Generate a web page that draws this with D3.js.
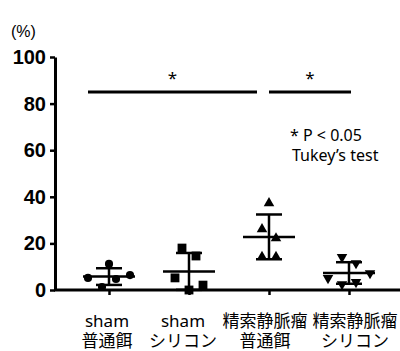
<!DOCTYPE html>
<html>
<head>
<meta charset="utf-8">
<script src="https://cdn.jsdelivr.net/npm/d3@7"></script>
<style>
  body { margin: 0; background: #fff; }
  svg { display: block; }
</style>
</head>
<body>
<script>
// chart data
var line1 = ["sham", "sham", "精索静脈瘤", "精索静脈瘤"];
var line2 = ["普通餌", "シリコン", "普通餌", "シリコン"];
var groups = ["g1", "g2", "g3", "g4"];
var shapes = ["circle", "square", "triangle", "triangleDown"];

var values = [
    [5.2, 11.2, 4.7, 6.4, 1.3],
    [18.0, 14.6, 5.2, 2.1, 0.0],
    [37.3, 26.1, 22.2, 14.2, 14.2],
    [14.1, 11.5, 7.2, 5.1, 2.5, 3.4]
];
// horizontal spread slot of each point (scatter column layout)
var slots = [
    [-3, 0, 1, 3, -1],
    [-1, 1, -2, 2, 0],
    [0, -1, 1, -1, 1],
    [-1, 1, 3, -3, -1, 1]
];
var yTicks = [0, 20, 40, 60, 80, 100];

var width = 400, height = 351;

var svg = d3.select("body").append("svg")
    .attr("width", width)
    .attr("height", height);

var x = d3.scalePoint().domain(groups).range([109, 349]);
var y = d3.scaleLinear().domain([0, 100]).range([290, 57]);

var latin = "'Noto Sans', 'Noto Sans CJK JP', sans-serif";

//y axis
var yAxis = svg.append("g")
    .attr("transform", "translate(55,0)")
    .call(d3.axisLeft(y).tickValues(yTicks).tickSize(5).tickSizeOuter(0).tickPadding(4));
yAxis.select(".domain").attr("stroke-width", 3);
yAxis.selectAll(".tick line").attr("stroke-width", 2.5);
yAxis.selectAll(".tick text")
    .attr("font-family", "'Liberation Sans', Arial, sans-serif")
    .attr("font-weight", "bold")
    .attr("font-size", 20)
    .attr("fill", "#000");

svg.append("text")
    .attr("x", 11).attr("y", 37)
    .attr("font-family", "'Liberation Sans', Arial, sans-serif")
    .attr("font-size", 16)
    .text("(%)");

//x axis: long baseline plus category ticks
svg.append("line")
    .attr("x1", 54).attr("x2", width)
    .attr("y1", y(0)).attr("y2", y(0))
    .attr("stroke", "#000").attr("stroke-width", 3);

var xAxis = svg.append("g")
    .attr("transform", "translate(0," + y(0) + ")")
    .call(d3.axisBottom(x).tickSize(5).tickFormat(""));
xAxis.select(".domain").remove();
xAxis.selectAll(".tick line").attr("stroke-width", 2.5);

//category labels (two lines)
var labelShift = [-2, -6, -4, 6];
[line1, line2].forEach(function(lines, li){
    svg.selectAll(".catLabel" + li)
        .data(groups)
        .enter()
        .append("text")
        .attr("class", "catLabel" + li)
        .attr("text-anchor", "middle")
        .attr("font-family", latin)
        .attr("font-size", 17)
        .attr("x", function(d, i){ return x(d) + labelShift[i]; })
        .attr("y", li === 0 ? 327 : 347)
        .text(function(d, i){ return lines[i]; });
});

//mean and SD bars
var stats = values.map(function(v){
    return { mean: d3.mean(v), sd: d3.deviation(v) };
});
var bars = svg.selectAll(".errBar")
    .data(groups)
    .enter()
    .append("g")
    .attr("class", "errBar")
    .attr("stroke", "#000")
    .attr("stroke-width", 2.5);
bars.append("line")
    .attr("x1", function(d){ return x(d) - 26; })
    .attr("x2", function(d){ return x(d) + 26; })
    .attr("y1", function(d, i){ return y(stats[i].mean); })
    .attr("y2", function(d, i){ return y(stats[i].mean); });
bars.append("line")
    .attr("x1", function(d){ return x(d); })
    .attr("x2", function(d){ return x(d); })
    .attr("y1", function(d, i){ return y(Math.max(0, stats[i].mean - stats[i].sd)); })
    .attr("y2", function(d, i){ return y(stats[i].mean + stats[i].sd); });
bars.append("line")
    .attr("x1", function(d){ return x(d) - 13; })
    .attr("x2", function(d){ return x(d) + 13; })
    .attr("y1", function(d, i){ return y(stats[i].mean + stats[i].sd); })
    .attr("y2", function(d, i){ return y(stats[i].mean + stats[i].sd); });
bars.append("line")
    .attr("x1", function(d){ return x(d) - 13; })
    .attr("x2", function(d){ return x(d) + 13; })
    .attr("y1", function(d, i){ return y(stats[i].mean - stats[i].sd); })
    .attr("y2", function(d, i){ return y(stats[i].mean - stats[i].sd); });

//points
var symbolTypes = {
    circle: d3.symbolCircle,
    square: d3.symbolSquare,
    triangle: d3.symbolTriangle,
    triangleDown: d3.symbolTriangle
};
var symbolSizes = { circle: 52, square: 78, triangle: 48, triangleDown: 48 };
var points = [];
values.forEach(function(v, gi){
    v.forEach(function(val, pi){
        points.push({ g: groups[gi], shape: shapes[gi], value: val, slot: slots[gi][pi] });
    });
});
svg.selectAll(".pt")
    .data(points)
    .enter()
    .append("path")
    .attr("class", "pt")
    .attr("d", function(d){ return d3.symbol().type(symbolTypes[d.shape]).size(symbolSizes[d.shape])(); })
    .attr("transform", function(d){
        var t = "translate(" + (x(d.g) + d.slot * 7) + "," + y(d.value) + ")";
        return d.shape === "triangleDown" ? t + " rotate(180)" : t;
    })
    .attr("fill", "#000");

//significance bars
var sig = [
    { x1: x("g1") - 21, x2: x("g3") - 12 },
    { x1: x("g3"), x2: x("g4") + 2 }
];
svg.selectAll(".sigLine")
    .data(sig)
    .enter()
    .append("line")
    .attr("class", "sigLine")
    .attr("x1", function(d){ return d.x1; })
    .attr("x2", function(d){ return d.x2; })
    .attr("y1", 92).attr("y2", 92)
    .attr("stroke", "#000").attr("stroke-width", 3);
svg.selectAll(".sigStar")
    .data(sig)
    .enter()
    .append("text")
    .attr("class", "sigStar")
    .attr("x", function(d){ return (d.x1 + d.x2) / 2; })
    .attr("y", 84)
    .attr("text-anchor", "middle")
    .attr("font-family", latin)
    .attr("font-size", 17)
    .text("*");

//note
svg.append("text")
    .attr("x", 290).attr("y", 141)
    .attr("font-family", latin)
    .attr("font-size", 16)
    .text("* P < 0.05");
svg.append("text")
    .attr("x", 292).attr("y", 161)
    .attr("font-family", latin)
    .attr("font-size", 16)
    .text("Tukey’s test");
</script>
</body>
</html>
